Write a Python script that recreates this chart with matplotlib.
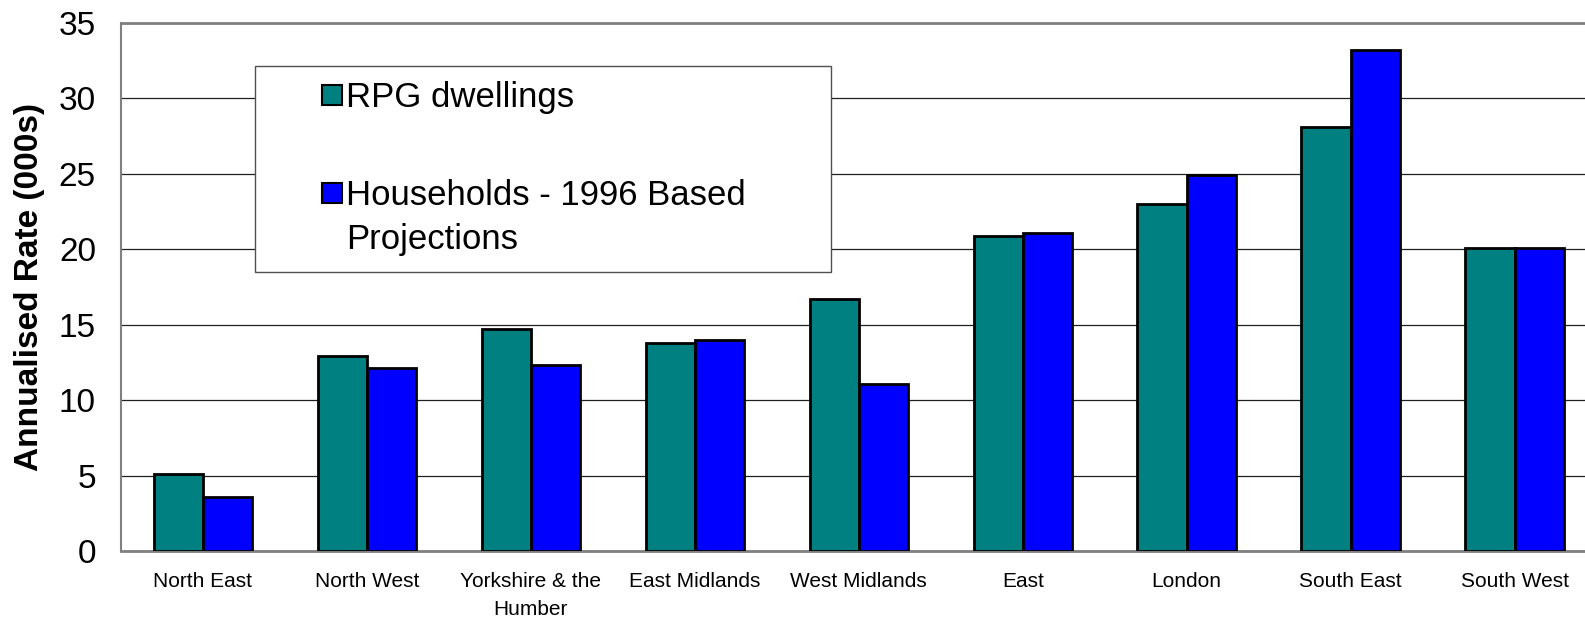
import numpy as np
import matplotlib
matplotlib.use("Agg")
import matplotlib.pyplot as plt
from matplotlib.patches import Rectangle
from matplotlib.container import BarContainer
from matplotlib.legend_handler import HandlerPatch, update_from_first_child

# Regional annualised rates (000s)
regions = ["North East", "North West", "Yorkshire & the\nHumber", "East Midlands",
           "West Midlands", "East", "London", "South East", "South West"]
rpg_dwellings = [5.1, 12.9, 14.7, 13.8, 16.7, 20.9, 23.0, 28.1, 20.1]
households_1996 = [3.6, 12.1, 12.3, 14.0, 11.1, 21.1, 24.9, 33.2, 20.1]

plt.rcParams['font.family'] = ['Liberation Sans', 'DejaVu Sans']

LEG_FS = 25


def square_handle(legend, orig_handle, xdescent, ydescent, width, height, fontsize):
    # small square at the right end of the handle area, level with the first text line
    size = 0.58 * fontsize
    nlines = orig_handle.get_label().count("\n") + 1
    shift = (nlines - 1) * fontsize * 1.45 / 2
    return Rectangle((width - xdescent - size, (height - size) / 2 - ydescent + shift), size, size)


fig = plt.figure(figsize=(15.85, 6.22), dpi=100)
ax = fig.add_axes([0.0763, 0.1141, 0.931, 0.849])

x = np.arange(len(regions))
w = 0.3
ax.bar(x - w / 2, rpg_dwellings, w, color="#008080", edgecolor="black",
       linewidth=2, label="RPG dwellings", zorder=3)
ax.bar(x + w / 2, households_1996, w, color="#0000FF", edgecolor="black",
       linewidth=2, label="Households - 1996 Based\nProjections", zorder=3)

ax.set_xlim(-0.5, 8.5)
ax.set_ylim(0, 35)
ax.set_yticks(range(0, 36, 5))
ax.set_xticks(x)
ax.set_xticklabels(regions, fontsize=15, linespacing=1.6)
ax.tick_params(axis="y", length=0, pad=18, labelsize=24)
ax.tick_params(axis="x", length=0, pad=15)

ax.yaxis.grid(True, color="#202020", linewidth=0.9, zorder=0)
ax.set_axisbelow(True)
ax.spines["right"].set_visible(False)
for s, lw in [("top", 2), ("bottom", 2), ("left", 1.5)]:
    ax.spines[s].set_color("#808080")
    ax.spines[s].set_linewidth(lw)

ax.set_ylabel("Annualised Rate (000s)", fontsize=24, fontweight="bold", labelpad=10)

leg = ax.legend(loc="upper left", bbox_to_anchor=(0.091, 0.919, 0.39, 0.0),
                mode="expand", borderaxespad=0, fontsize=LEG_FS, frameon=True,
                fancybox=False, edgecolor="#505050", framealpha=1,
                handlelength=2.05, handleheight=0.6, handletextpad=0.12,
                labelspacing=1.85, borderpad=0.45,
                handler_map={BarContainer: HandlerPatch(patch_func=square_handle,
                                                        update_func=update_from_first_child)})
leg.get_frame().set_linewidth(1.0)
leg.set_zorder(5)
for t in leg.get_texts():
    t.set_linespacing(1.45)
for h in leg.legend_handles:
    h.set_linewidth(1.5)

fig.savefig("out.png", dpi=100)
